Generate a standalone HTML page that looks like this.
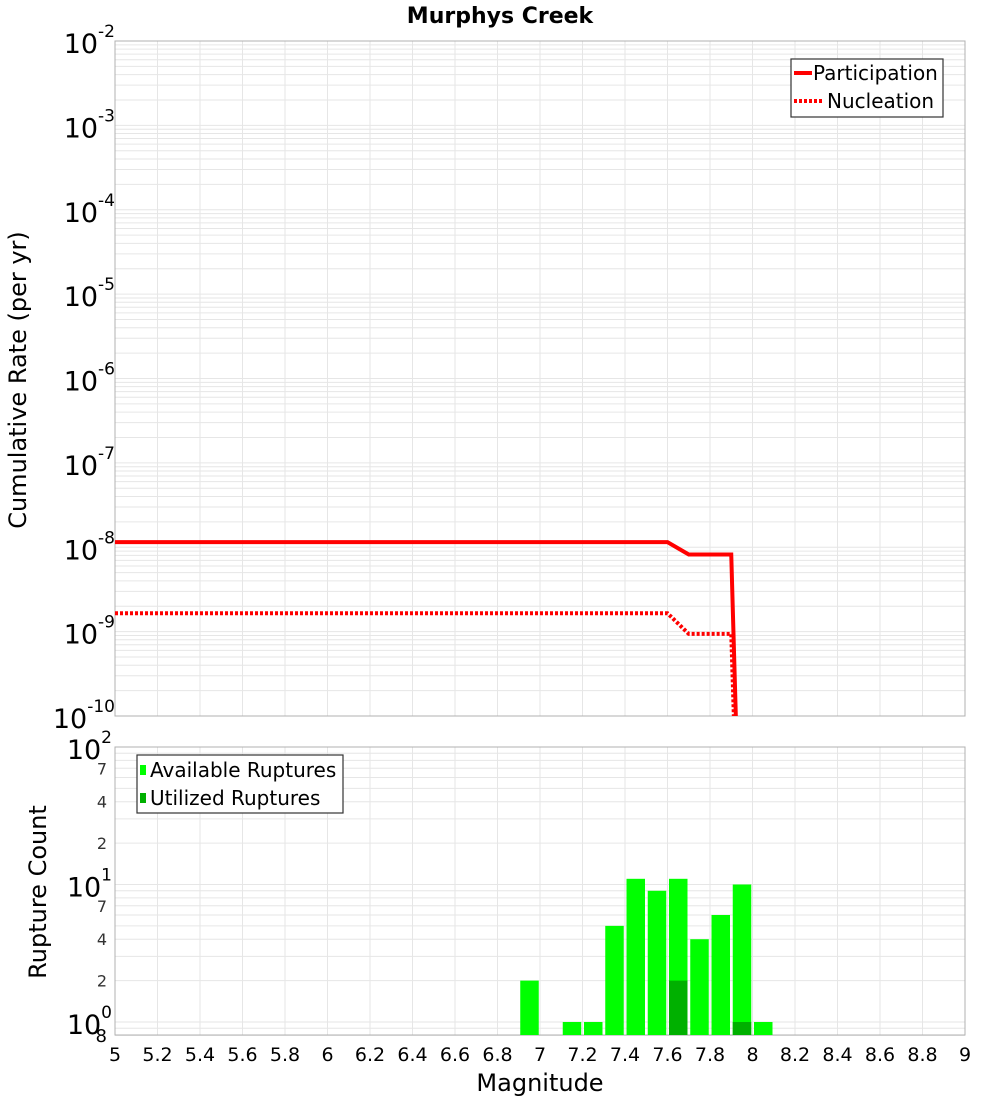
<!DOCTYPE html>
<html><head><meta charset="utf-8"><style>
html,body{margin:0;padding:0;background:#fff;overflow:hidden;font-family:"DejaVu Sans","Liberation Sans",sans-serif;}
svg{display:block;}
svg text{font-family:"DejaVu Sans","Liberation Sans",sans-serif;}
</style></head><body>
<svg id="c" width="1000" height="1100" xmlns="http://www.w3.org/2000/svg">
<defs>
<clipPath id="clipTop"><rect x="115" y="41" width="850" height="675"/></clipPath>
<clipPath id="clipBot"><rect x="115" y="747" width="850" height="288"/></clipPath>
</defs>
<text x="500" y="23" text-anchor="middle" font-size="22" font-weight="bold">Murphys Creek</text>
<g id="gTop"></g>
<g id="gBot"></g>
<text transform="translate(26,380) rotate(-90)" text-anchor="middle" font-size="24">Cumulative Rate (per yr)</text>
<text transform="translate(46,892) rotate(-90)" text-anchor="middle" font-size="24">Rupture Count</text>
<text x="540" y="1091" text-anchor="middle" font-size="24">Magnitude</text>
<g>
<rect x="791" y="59" width="152" height="58" fill="#fff" stroke="#333" stroke-width="1.2"/>
<line x1="794" y1="73" x2="812" y2="73" stroke="#f00" stroke-width="4"/>
<text x="813" y="80" font-size="20">Participation</text>
<line x1="794" y1="101" x2="822" y2="101" stroke="#f00" stroke-width="4" stroke-dasharray="3,2"/>
<text x="827" y="108" font-size="20">Nucleation</text>
</g>
<g>
<rect x="137" y="755" width="206" height="58" fill="#fff" stroke="#333" stroke-width="1.2"/>
<rect x="140" y="765" width="6" height="10" fill="#00ff00"/>
<text x="150" y="777" font-size="20">Available Ruptures</text>
<rect x="140" y="793" width="6" height="10" fill="#00b000"/>
<text x="150" y="805" font-size="20">Utilized Ruptures</text>
</g>
</svg>
<script>
const mags=[5.0,5.1,5.2,5.3,5.4,5.5,5.6,5.7,5.8,5.9,6.0,6.1,6.2,6.3,6.4,6.5,6.6,6.7,6.8,6.9,7.0,7.1,7.2,7.3,7.4,7.5,7.6,7.7,7.8,7.9,8.0];
const participation=[1.15e-8,1.15e-8,1.15e-8,1.15e-8,1.15e-8,1.15e-8,1.15e-8,1.15e-8,1.15e-8,1.15e-8,1.15e-8,1.15e-8,1.15e-8,1.15e-8,1.15e-8,1.15e-8,1.15e-8,1.15e-8,1.15e-8,1.15e-8,1.15e-8,1.15e-8,1.15e-8,1.15e-8,1.15e-8,1.15e-8,1.15e-8,8.2e-9,8.2e-9,8.2e-9,1e-17];
const nucleation=[1.65e-9,1.65e-9,1.65e-9,1.65e-9,1.65e-9,1.65e-9,1.65e-9,1.65e-9,1.65e-9,1.65e-9,1.65e-9,1.65e-9,1.65e-9,1.65e-9,1.65e-9,1.65e-9,1.65e-9,1.65e-9,1.65e-9,1.65e-9,1.65e-9,1.65e-9,1.65e-9,1.65e-9,1.65e-9,1.65e-9,1.65e-9,9.4e-10,9.4e-10,9.4e-10,1e-17];
const binStarts=[6.9,7.1,7.2,7.3,7.4,7.5,7.6,7.7,7.8,7.9,8.0];
const available=[2,1,1,5,11,9,11,4,6,10,1];
const utilizedBins=[7.6,7.9];
const utilized=[2,1];
const xTicks=["5","5.2","5.4","5.6","5.8","6","6.2","6.4","6.6","6.8","7","7.2","7.4","7.6","7.8","8","8.2","8.4","8.6","8.8","9"];
const topExps=[-2,-3,-4,-5,-6,-7,-8,-9,-10];
const botExps=[2,1,0];
const botMinorLabels=["7","4","2"];

const NS="http://www.w3.org/2000/svg";
const X=m=>115+(m-5)*212.5;
const YT=v=>41+(-2-Math.log10(v))*84.375;
const YB=v=>747+(2-Math.log10(v))*137.5;
function mk(p,tag,a){const e=document.createElementNS(NS,tag);for(const k in a)e.setAttribute(k,a[k]);p.appendChild(e);return e;}
const gT=document.getElementById('gTop'),gB=document.getElementById('gBot');

function grid(g,y0,y1,Y,dmin,dmax){
  for(let i=0;i<=20;i++){const x=X(5+i*0.2);const l=mk(g,'line',{x1:x,x2:x,y1:y0,y2:y1,stroke:'#e6e6e6','stroke-width':1});
  
  }
  for(let d=dmin;d<dmax;d++)for(let k=1;k<10;k++){const y=Y(k*Math.pow(10,d));if(y<y0-0.5||y>y1+0.5)continue;
  const l=mk(g,'line',{x1:115,x2:965,y1:y,y2:y,stroke:'#e6e6e6','stroke-width':1});
  
  }
}
grid(gT,41,716,YT,-10,-2);
grid(gB,747,1035,YB,-1,2);
const f1=mk(gT,'rect',{x:115,y:41,width:850,height:675,fill:'none',stroke:'#b0b0b0'});


const f2=mk(gB,'rect',{x:115,y:747,width:850,height:288,fill:'none',stroke:'#b0b0b0'});



topExps.forEach(e=>{const y=YT(Math.pow(10,e));
  const t=mk(gT,'text',{x:115,y:y+12,'text-anchor':'end','font-size':27});
  
  
  t.textContent='10';
  const s=mk(t,'tspan',{dy:-16,'font-size':17});s.textContent=String(e);
});
botExps.forEach(e=>{const y=YB(Math.pow(10,e));
  const t=mk(gB,'text',{x:112,y:y+12,'text-anchor':'end','font-size':27});
  
  
  t.textContent='10';
  const s=mk(t,'tspan',{dy:-16,'font-size':17});s.textContent=String(e);
});
[1,0].forEach(e=>botMinorLabels.forEach(lb=>{const y=YB(+lb*Math.pow(10,e));
  const t=mk(gB,'text',{x:107,y:y+6,'text-anchor':'end','font-size':16,fill:'#333'});
  
  
  t.textContent=lb;}));
const t8=mk(gB,'text',{x:107,y:1042,'text-anchor':'end','font-size':18,fill:'#000'});


t8.textContent='8';
xTicks.forEach(s=>{const t=mk(gB,'text',{x:X(+s),y:1061,'text-anchor':'middle','font-size':19});
  
  
  t.textContent=s;});

function line(vals,dash,name){const pts=mags.map((m,i)=>X(m)+','+YT(vals[i])).join(' ');
  const a={points:pts,fill:'none',stroke:'#f00','stroke-width':4,'clip-path':'url(#clipTop)'};if(dash)a['stroke-dasharray']='3,2';
  const p=mk(gT,'polyline',a);
  
  }
line(participation,false,'participation-line');
line(nucleation,true,'nucleation-line');

const yBase=1035;
binStarts.forEach((m,i)=>{const y=YB(available[i]);
  const r=mk(gB,'rect',{x:X(m)+1.5,y:y,width:18.5,height:yBase-y,fill:'#00ff00','clip-path':'url(#clipBot)'});
  
  });
utilizedBins.forEach((m,i)=>{const y=YB(utilized[i]);
  const r=mk(gB,'rect',{x:X(m)+1.5,y:y,width:18.5,height:yBase-y,fill:'#00b000','clip-path':'url(#clipBot)'});
  
  });
</script>
</body></html>
